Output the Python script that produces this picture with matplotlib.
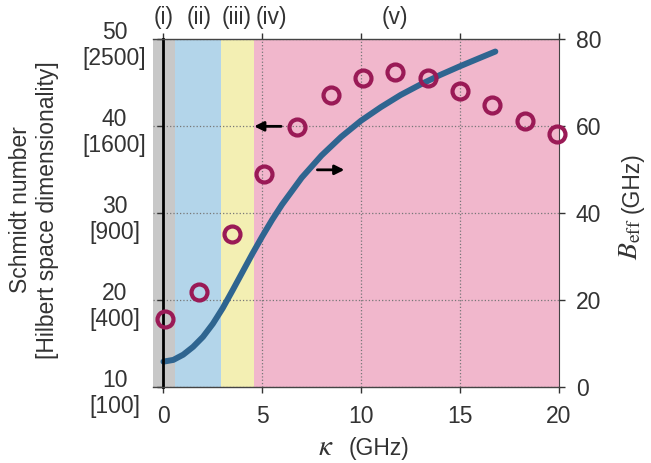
import matplotlib.pyplot as plt

plt.rcParams['font.family'] = ['Liberation Sans', 'DejaVu Sans']
plt.rcParams['mathtext.fontset'] = 'stix'

# Schmidt number (left axis), open circles
kappa_pts = [0.06, 1.8, 3.45, 5.1, 6.77, 8.5, 10.08, 11.73, 13.4, 15.0, 16.64, 18.3, 19.9]
schmidt = [17.9, 21.0, 27.6, 34.5, 39.9, 43.6, 45.6, 46.2, 45.5, 44.1, 42.4, 40.6, 39.1]

# effective bandwidth (right axis), solid curve
kappa_line = [0, 0.5, 1, 1.5, 2, 2.5, 3, 3.5, 4, 4.5, 5, 5.5, 6, 7, 8, 9, 10,
              11, 12, 13, 14, 15, 16, 16.8]
b_eff = [5.9, 6.3, 7.5, 9.3, 11.6, 14.6, 18.2, 22.3, 26.5, 30.7, 34.7, 38.5, 42.0,
         48.2, 53.3, 57.6, 61.3, 64.4, 67.2, 69.6, 71.8, 73.8, 75.7, 77.2]

# regimes
region_edges = [-0.53, 0.58, 2.91, 4.58, 20.0]
region_colors = ['#c8c8c8', '#b3d5ea', '#f3efb3', '#f1b7cc']
region_names = ['(i)', '(ii)', '(iii)', '(iv)', '(v)']
region_label_x = [0.0, 1.8, 3.7, 5.45, 11.7]

x_ticks = [0, 5, 10, 15, 20]
left_ticks = [10, 20, 30, 40, 50]
left_labels = ['10\n[100]', '20\n[400]', '30\n[900]', '40\n[1600]', '50\n[2500]']
right_ticks = [0, 20, 40, 60, 80]

txt = '#333333'
fs = 16.5

fig = plt.figure(figsize=(6.51, 4.63), dpi=100)
ax = fig.add_axes([0.235, 0.1635, 0.623, 0.7515])
ax2 = ax.twinx()
ax.set_zorder(ax2.get_zorder() + 1)
ax.patch.set_visible(False)

# shading + grid live on the lower (right) axes
for i in range(len(region_colors)):
    ax2.axvspan(region_edges[i], region_edges[i + 1], color=region_colors[i], lw=0, zorder=0)
for xv in x_ticks[1:-1]:
    ax2.axvline(xv, color='#777777', ls=':', lw=0.9, zorder=1)
ax2.yaxis.grid(True, color='#777777', ls=':', lw=0.9)
ax2.set_axisbelow(False)

ax2.plot(kappa_line, b_eff, color='#2f6590', lw=4.3, solid_capstyle='round',
         solid_joinstyle='round', zorder=3)

ax.plot(kappa_pts, schmidt, 'o', ms=11.5, mfc='none', mec='#9a1a56', mew=3.0,
        zorder=4, clip_on=False)

# arrows
ax.annotate('', xy=(4.45, 40), xytext=(6.1, 40),
            arrowprops=dict(arrowstyle='-|>', color='black', lw=2, mutation_scale=14))
ax.annotate('', xy=(9.3, 35), xytext=(7.65, 35),
            arrowprops=dict(arrowstyle='-|>', color='black', lw=2, mutation_scale=14))

ax.set_xlim(region_edges[0], 20)
ax.set_ylim(10, 50)
ax2.set_ylim(0, 80)

ax.set_xticks(x_ticks)
ax.set_yticks(left_ticks, labels=[''] * len(left_ticks))
ax2.set_yticks(right_ticks)

# two-line left tick labels, centred
for yv, lab in zip(left_ticks, left_labels):
    ax.text(-0.0947, yv - 0.7, lab, transform=ax.get_yaxis_transform(), ha='center',
            va='center', multialignment='center', fontsize=fs, color=txt, clip_on=False)

ax.spines['left'].set_position(('data', 0))
ax.spines['left'].set_linewidth(2)
ax.spines['left'].set_color('black')
ax.spines['right'].set_visible(False)
for s in ['top', 'bottom']:
    ax.spines[s].set_color('#444444')
    ax.spines[s].set_linewidth(1)
for s in ['left', 'top', 'bottom']:
    ax2.spines[s].set_visible(False)
ax2.spines['right'].set_color('#444444')

ax.tick_params(axis='x', which='both', top=True, direction='out', length=4.5, width=1,
               labelsize=fs, pad=8, colors=txt)
ax.tick_params(axis='y', direction='out', length=4.5, width=1, colors=txt)
ax2.tick_params(axis='y', direction='out', length=4.5, width=1, labelsize=fs, pad=8, colors=txt)

# axis titles
ax.text(0.427, -0.1945, r'$\kappa$', transform=ax.transAxes, ha='center', va='baseline',
        fontsize=21, color=txt)
ax.text(0.5575, -0.1945, '(GHz)', transform=ax.transAxes, ha='center', va='baseline',
        fontsize=fs, color=txt)
fig.text(0.0518, 0.5464, 'Schmidt number\n[Hilbert space dimensionality]', rotation=90,
         ha='center', va='center', multialignment='center', fontsize=fs, color=txt)
fig.text(0.968, 0.528, r'$B_{\mathrm{eff}}$', rotation=90, ha='center', va='top',
         fontsize=20, color=txt)
fig.text(0.971, 0.540, '(GHz)', rotation=90, ha='center', va='bottom',
         fontsize=fs, color=txt)

for name, xv in zip(region_names, region_label_x):
    ax.text(xv, 1.063, name, transform=ax.get_xaxis_transform(), ha='center', va='center',
            fontsize=fs, color=txt)

fig.savefig('out.png', dpi=100)
